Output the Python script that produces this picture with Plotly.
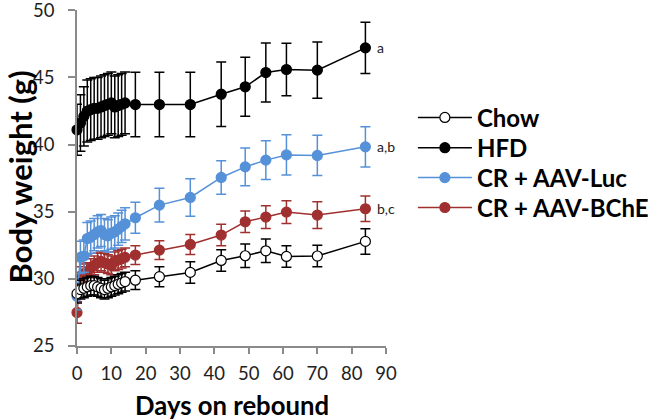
import plotly.graph_objects as go

days = [0, 1, 2, 3, 4, 5, 6, 7, 8, 9, 10, 11, 12, 13, 14, 17, 24, 33, 42, 49, 55, 61, 70, 84]

chow = [28.9, 29.2, 29.3, 29.4, 29.5, 29.5, 29.4, 29.3, 29.2, 29.3, 29.4, 29.5, 29.6, 29.7, 29.8,
        29.9, 30.16, 30.48, 31.37, 31.72, 32.09, 31.67, 31.7, 32.79]
chow_err = [0.7, 0.7, 0.7, 0.7, 0.7, 0.7, 0.7, 0.7, 0.7, 0.7, 0.7, 0.7, 0.7, 0.7, 0.7,
            0.7, 0.75, 0.8, 0.8, 0.87, 0.87, 0.8, 0.8, 0.95]

hfd = [41.1, 41.6, 42.1, 42.5, 42.6, 42.7, 42.7, 42.8, 42.9, 43.0, 43.1, 42.8, 42.9, 43.0, 43.1,
       42.98, 42.98, 42.98, 43.75, 44.3, 45.36, 45.59, 45.54, 47.2]
hfd_err = [1.9, 2.1, 2.2, 2.3, 2.3, 2.3, 2.3, 2.3, 2.3, 2.3, 2.3, 2.3, 2.3, 2.3, 2.3,
           2.4, 2.4, 2.4, 2.4, 2.2, 2.2, 1.95, 2.1, 1.9]

luc = [28.7, 31.6, 31.7, 33.0, 33.1, 33.3, 33.5, 33.6, 33.3, 33.2, 33.4, 33.5, 33.7, 33.9, 34.1,
       34.55, 35.49, 36.06, 37.55, 38.34, 38.84, 39.23, 39.19, 39.83]
luc_err = [1.0, 1.2, 1.2, 1.2, 1.2, 1.2, 1.2, 1.2, 1.2, 1.2, 1.2, 1.2, 1.2, 1.2, 1.2,
           1.15, 1.25, 1.4, 1.25, 1.4, 1.45, 1.5, 1.5, 1.5]

bche = [27.5, 30.2, 30.4, 30.5, 30.8, 31.0, 31.2, 31.3, 31.2, 31.1, 31.0, 31.3, 31.4, 31.5, 31.6,
        31.77, 32.14, 32.56, 33.26, 34.25, 34.6, 34.97, 34.75, 35.22]
bche_err = [0.8, 0.7, 0.7, 0.7, 0.7, 0.7, 0.7, 0.7, 0.7, 0.7, 0.7, 0.7, 0.7, 0.7, 0.7,
            0.7, 0.7, 0.75, 0.8, 0.8, 0.85, 0.85, 1.0, 0.95]

series_names = ["Chow", "HFD", "CR + AAV-Luc", "CR + AAV-BChE"]
sig_labels = ["a", "a,b", "b,c"]
x_title = "Days on rebound"
y_title = "Body weight (g)"

x_ticks = [0, 10, 20, 30, 40, 50, 60, 70, 80, 90]
y_ticks = [25, 30, 35, 40, 45, 50]

FONT = "Lato, Carlito, Liberation Sans, sans-serif"

fig = go.Figure()

def add(name, y, err, color, fill, legend_id):
    fig.add_trace(go.Scatter(
        x=days, y=y, name=name, mode="lines+markers", cliponaxis=False,
        legend=legend_id, showlegend=True,
        line=dict(color=color, width=1.5),
        marker=dict(size=10, color=fill, line=dict(color=color, width=1.2)),
        error_y=dict(type="data", array=err, visible=True, color=color, thickness=1.5, width=5),
    ))

add(series_names[3], bche, bche_err, "#A0302F", "#A0302F", "legend4")
add(series_names[2], luc, luc_err, "#5591D8", "#5591D8", "legend3")
add(series_names[1], hfd, hfd_err, "#000000", "#000000", "legend2")
add(series_names[0], chow, chow_err, "#000000", "#FFFFFF", "legend")

for lab, yv in zip(sig_labels, [hfd[-1], luc[-1], bche[-1]]):
    fig.add_annotation(x=days[-1], y=yv, text=lab, showarrow=False, xref="x", yref="y",
                       xanchor="left", xshift=10, font=dict(size=14, color="#222", family=FONT))

# axis titles as positioned annotations
fig.add_annotation(text="<b>" + x_title + "</b>", xref="paper", yref="paper",
                   x=0.5, y=-0.175, xanchor="center", yanchor="middle", showarrow=False,
                   font=dict(size=25.7, color="#000", family=FONT))
fig.add_annotation(text="<b>" + y_title + "</b>", xref="paper", yref="paper",
                   x=-0.185, y=0.504, xanchor="center", yanchor="middle", showarrow=False,
                   textangle=-90, font=dict(size=31, color="#000", family=FONT))

leg_common = dict(x=1.087, xanchor="left", yanchor="middle", visible=True,
                  font=dict(size=24, color="#000", family=FONT, weight="bold"),
                  bgcolor="rgba(0,0,0,0)", itemwidth=54)

fig.update_layout(
    width=652, height=419,
    showlegend=True,
    margin=dict(l=77, r=266, t=10, b=73, autoexpand=False),
    plot_bgcolor="white", paper_bgcolor="white",
    font=dict(family=FONT),
    legend=dict(y=0.679, **leg_common),
    legend2=dict(y=0.589, **leg_common),
    legend3=dict(y=0.5, **leg_common),
    legend4=dict(y=0.411, **leg_common),
)
fig.update_xaxes(range=[0, 90], tickvals=x_ticks, showgrid=False, zeroline=False,
                 showline=True, linecolor="#8a8a8a", linewidth=1.5, automargin=False,
                 ticks="outside", tickcolor="#8a8a8a", ticklen=6, tickwidth=1.5,
                 tickfont=dict(size=18.5, color="#222"), ticklabelstandoff=4)
fig.update_yaxes(range=[25, 50.02], tickvals=y_ticks, showgrid=False, zeroline=False,
                 showline=True, linecolor="#8a8a8a", linewidth=1.5, automargin=False,
                 ticks="outside", tickcolor="#8a8a8a", ticklen=7, tickwidth=1.5,
                 tickfont=dict(size=18.5, color="#222"), ticklabelstandoff=10,
                 ticklabeloverflow="allow")

fig.write_html("out.html", config={"displayModeBar": False},
               post_script="document.body.style.margin='0';document.body.style.overflow='hidden';")
